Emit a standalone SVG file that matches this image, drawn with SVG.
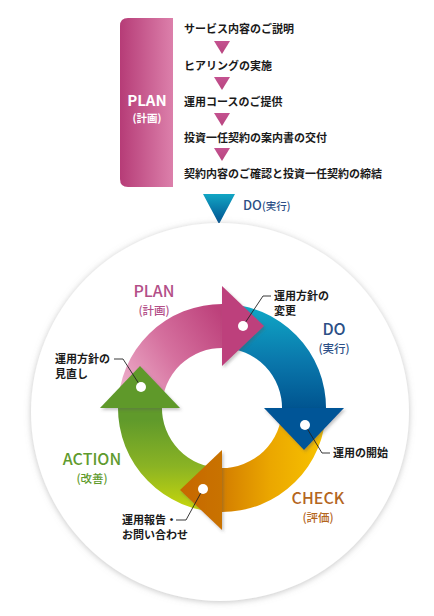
<svg xmlns="http://www.w3.org/2000/svg" width="434" height="616" viewBox="0 0 434 616">
<style>
.jp{font-family:"Noto Sans CJK JP","Noto Sans",sans-serif;}
.step{font-size:11px;font-weight:600;fill:#1a1a1a;}
.note{font-size:11px;font-weight:600;fill:#1a1a1a;}
.big{font-size:16px;font-weight:500;text-anchor:middle;}
.sub{font-size:11.5px;font-weight:500;text-anchor:middle;}
.lead{fill:none;stroke:#222;stroke-width:0.9;}
.dot{fill:#fff;}
</style>
<defs>
<linearGradient id="gBox" x1="0" y1="0" x2="1" y2="0"><stop offset="0" stop-color="#b63c77"/><stop offset="1" stop-color="#dc80ab"/></linearGradient>
<linearGradient id="gTri" x1="0" y1="0" x2="0" y2="1"><stop offset="0" stop-color="#c45290"/><stop offset="1" stop-color="#b8457f"/></linearGradient>
<linearGradient id="gDo" x1="0" y1="0" x2="0" y2="1"><stop offset="0" stop-color="#12a6c4"/><stop offset="1" stop-color="#004f8f"/></linearGradient>
<linearGradient id="gPink" gradientUnits="userSpaceOnUse" x1="120" y1="390" x2="225" y2="320"><stop offset="0" stop-color="#eeb0cb"/><stop offset="0.5" stop-color="#d5709e"/><stop offset="1" stop-color="#bd417b"/></linearGradient>
<linearGradient id="gBlue" gradientUnits="userSpaceOnUse" x1="0" y1="300" x2="0" y2="410"><stop offset="0" stop-color="#10adc9"/><stop offset="0.55" stop-color="#0a78ac"/><stop offset="1" stop-color="#00538f"/></linearGradient>
<linearGradient id="gOrange" gradientUnits="userSpaceOnUse" x1="326" y1="0" x2="215" y2="0"><stop offset="0" stop-color="#f8c400"/><stop offset="0.5" stop-color="#eba700"/><stop offset="1" stop-color="#d07800"/></linearGradient>
<linearGradient id="gGreen" gradientUnits="userSpaceOnUse" x1="0" y1="420" x2="0" y2="512"><stop offset="0" stop-color="#609a2b"/><stop offset="0.5" stop-color="#8ab324"/><stop offset="1" stop-color="#cad80a"/></linearGradient>
<linearGradient id="gOrHead" gradientUnits="userSpaceOnUse" x1="180" y1="0" x2="224" y2="0"><stop offset="0" stop-color="#c76800"/><stop offset="1" stop-color="#c97300"/></linearGradient>
<filter id="sh" x="-20%" y="-20%" width="140%" height="140%"><feDropShadow dx="0" dy="1" stdDeviation="3" flood-color="#8a8a8a" flood-opacity="0.5"/></filter>
<filter id="ash" x="-20%" y="-20%" width="140%" height="140%"><feDropShadow dx="1.5" dy="2" stdDeviation="1.5" flood-color="#555" flood-opacity="0.35"/></filter>
</defs>
<rect width="434" height="616" fill="#fff"/>

<g id="plan-steps">
<path d="M128 18 H173 V187 H128 Q120 187 120 179 V26 Q120 18 128 18 Z" fill="url(#gBox)"/>
<text class="jp" x="147" y="106" font-size="15" font-weight="bold" fill="#fff" text-anchor="middle">PLAN</text>
<text class="jp" x="147" y="122" font-size="10.5" font-weight="bold" fill="#fff" text-anchor="middle">(計画)</text>
<text class="jp step" x="184" y="33">サービス内容のご説明</text>
<text class="jp step" x="184" y="69.5">ヒアリングの実施</text>
<text class="jp step" x="184" y="106">運用コースのご提供</text>
<text class="jp step" x="184" y="142">投資一任契約の案内書の交付</text>
<text class="jp step" x="184" y="178">契約内容のご確認と投資一任契約の締結</text>
</g>

<g id="do-marker">
<polygon points="203,194 235,194 219,224" fill="url(#gDo)"/>
<text class="jp" x="243" y="210" font-size="13" font-weight="500" fill="#2c4f86">DO<tspan font-size="10.5">(実行)</tspan></text>
</g>

<g id="cycle-bg">
<circle cx="220" cy="412" r="189" fill="#fff" filter="url(#sh)"/>
</g>

<g id="arcs">
<path id="arc-plan" d="M118 408 A104 104 0 0 1 224 304 L224 348 A60 60 0 0 0 162 408 Z" fill="url(#gPink)"/>
<path id="arc-do" d="M222 304 A104 104 0 0 1 326 410 L282 410 A60 60 0 0 0 222 348 Z" fill="url(#gBlue)"/>
<path id="arc-check" d="M326 408 A104 104 0 0 1 220 512 L220 468 A60 60 0 0 0 282 408 Z" fill="url(#gOrange)"/>
<path id="arc-action" d="M222 512 A104 104 0 0 1 118 406 L162 406 A60 60 0 0 0 222 468 Z" fill="url(#gGreen)"/>
</g>

<g id="heads">
<polygon id="head-plan" points="222,286 264,326 222,366" fill="#bd417b" filter="url(#ash)"/>
<polygon id="head-do" points="264,408 344,408 304,450" fill="#005597" filter="url(#ash)"/>
<polygon id="head-check" points="222,450 222,530 180,490" fill="url(#gOrHead)" filter="url(#ash)"/>
<polygon id="head-action" points="100,408 180,408 140,366" fill="#5f992b" filter="url(#ash)"/>
</g>

<g id="connectors">
<polygon points="214,41 230,41 222,54" fill="url(#gTri)"/>
<polygon points="214,77 230,77 222,90" fill="url(#gTri)"/>
<polygon points="214,113 230,113 222,126" fill="url(#gTri)"/>
<polygon points="214,148 230,148 222,161" fill="url(#gTri)"/>
<polyline class="lead" points="243,326 263,296 271,296"/>
<polyline class="lead" points="141,387 123,359 114,359"/>
<polyline class="lead" points="305,425 322,453 330,453"/>
<polyline class="lead" points="203,489 186,520 176,520"/>
</g>

<g id="dots">
<circle class="dot" cx="243" cy="326" r="5"/>
<circle class="dot" cx="141" cy="387" r="5"/>
<circle class="dot" cx="305" cy="425" r="5"/>
<circle class="dot" cx="203" cy="489" r="5"/>
</g>

<g id="label-plan">
<text class="jp big" x="154" y="297" fill="#b34f88">PLAN</text>
<text class="jp sub" x="154" y="315" fill="#b34f88">(計画)</text>
</g>
<g id="label-do">
<text class="jp big" x="334" y="335" fill="#2c4f86">DO</text>
<text class="jp sub" x="334" y="353" fill="#2c4f86">(実行)</text>
</g>
<g id="label-check">
<text class="jp big" x="318" y="504" fill="#b4661e">CHECK</text>
<text class="jp sub" x="318" y="522" fill="#b4661e">(評価)</text>
</g>
<g id="label-action">
<text class="jp big" x="92" y="465" fill="#5f9b2e">ACTION</text>
<text class="jp sub" x="92" y="483" fill="#5f9b2e">(改善)</text>
</g>

<g id="note-change">
<text class="jp note" x="274" y="300">運用方針の</text>
<text class="jp note" x="274" y="315">変更</text>
</g>
<g id="note-review">
<text class="jp note" x="55" y="363">運用方針の</text>
<text class="jp note" x="55" y="378">見直し</text>
</g>
<g id="note-start">
<text class="jp note" x="333" y="457">運用の開始</text>
</g>
<g id="note-report">
<text class="jp note" x="122" y="524">運用報告・</text>
<text class="jp note" x="122" y="539">お問い合わせ</text>
</g>
</svg>
